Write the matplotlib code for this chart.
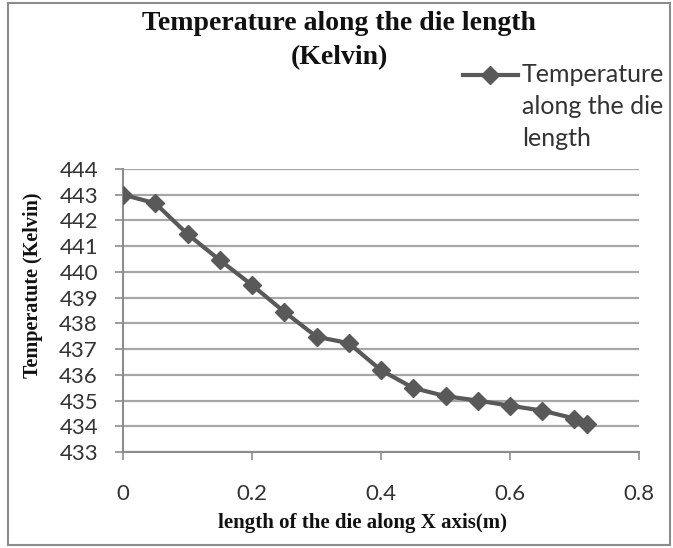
import matplotlib
matplotlib.use("Agg")
import matplotlib.pyplot as plt
from matplotlib.patches import Rectangle
from matplotlib.lines import Line2D

x_vals = [0, 0.05, 0.1, 0.15, 0.2, 0.25, 0.3, 0.35, 0.4, 0.45, 0.5, 0.55, 0.6, 0.65, 0.7, 0.72]
temps = [443.0, 442.67, 441.47, 440.46, 439.49, 438.45, 437.48, 437.23, 436.18, 435.49, 435.17, 435.0, 434.8, 434.61, 434.3, 434.07]
y_ticks = list(range(433, 445))
x_ticks = [0, 0.2, 0.4, 0.6, 0.8]
x_tick_labels = ["0", "0.2", "0.4", "0.6", "0.8"]
series_name = "Temperature\nalong the die\nlength"

W, H = 673, 548
fig = plt.figure(figsize=(W / 100, H / 100), dpi=100)

def fx(px):
    return px / W

def fy(py):
    return 1 - py / H

fig.patches.append(Rectangle((fx(8), fy(545)), fx(670) - fx(8), fy(3) - fy(545),
                             transform=fig.transFigure, fill=False,
                             edgecolor="#8c8c8c", linewidth=1.5))
ax = fig.add_axes([fx(123), fy(452), fx(639) - fx(123), fy(169) - fy(452)])

line_color = "#595959"
ax.plot(x_vals, temps, color=line_color, linewidth=3.0, marker="D", markersize=9.5,
        markerfacecolor=line_color, markeredgecolor=line_color, zorder=3)

ax.set_xlim(0, 0.8)
ax.set_ylim(433, 444)
ax.set_yticks(y_ticks)
ax.set_xticks(x_ticks)
ax.set_xticklabels(x_tick_labels)
ax.grid(axis="y", color="#a6a6a6", linewidth=1.6)
ax.set_axisbelow(True)
for s in ["top", "right"]:
    ax.spines[s].set_visible(False)
for s in ["left", "bottom"]:
    ax.spines[s].set_color("#8c8c8c")
    ax.spines[s].set_linewidth(1.5)
ax.tick_params(axis="both", direction="out", length=6, width=1.2, color="#8c8c8c",
               labelsize=16, labelcolor="#333333")
for lab in ax.get_xticklabels() + ax.get_yticklabels():
    lab.set_fontfamily("Lato")
ax.tick_params(axis="x", pad=17)
ax.tick_params(axis="y", pad=12)

fig.text(fx(363), fy(523), "length of the die along X axis(m)", ha="center", va="center",
         fontfamily="Liberation Serif", fontweight="bold", fontsize=15, color="#111111")
fig.text(fx(33), fy(285), "Temperatute (Kelvin)", ha="center", va="center", rotation=90,
         fontfamily="Liberation Serif", fontweight="bold", fontsize=14.5, color="#111111")

fig.text(fx(339), fy(23), "Temperature along the die length", ha="center", va="center",
         fontfamily="Liberation Serif", fontweight="bold", fontsize=20, color="#111111")
fig.text(fx(339), fy(58), "(Kelvin)", ha="center", va="center",
         fontfamily="Liberation Serif", fontweight="bold", fontsize=20, color="#111111")

# legend
fig.lines.append(Line2D([fx(463), fx(518)], [fy(75), fy(75)], transform=fig.transFigure,
                        color=line_color, linewidth=3.0))
fig.lines.append(Line2D([fx(490)], [fy(75)], transform=fig.transFigure, marker="D",
                        markersize=9.5, color=line_color, linestyle="none"))
for i, txt in enumerate(series_name.split("\n")):
    fig.text(fx(522), fy(75 + i * 31.5), txt, ha="left", va="center",
             fontfamily="Lato", fontsize=18, color="#333333")

fig.savefig("out.png", dpi=100)
